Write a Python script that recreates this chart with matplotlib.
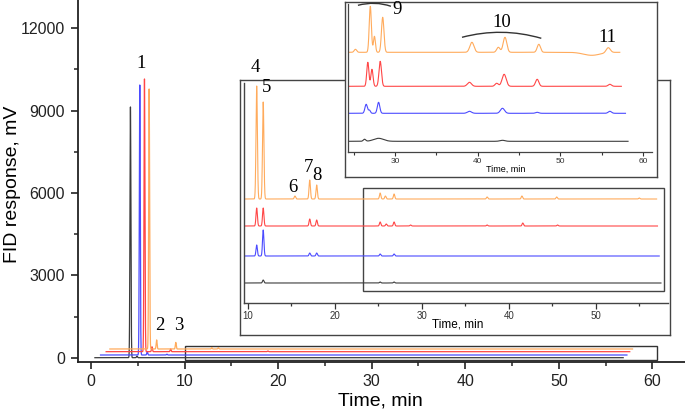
import numpy as np
import matplotlib
matplotlib.use('Agg')
import matplotlib.pyplot as plt
from matplotlib.patches import Rectangle, ConnectionPatch, PathPatch
from matplotlib.path import Path

plt.rcParams['font.family'] = ['Liberation Sans', 'DejaVu Sans']

W, H = 685, 411

# trace order: black, blue, red, orange
colors = ['#3c3c3c', '#4b4bff', '#ff4646', '#ffab5c']

# main chromatograms, mV
main_start = [0.4, 1.0, 1.6, 2.0]
main_end = [56.9, 57.3, 57.6, 57.9]
main_offset = [0, 98, 219, 317]
main_rt = [[4.2, 4.9], [5.2, 6.0, 8.1], [5.7, 6.5, 8.5, 18.9],
           [6.2, 7.0, 9.05, 12.9, 13.6]]
main_h = [[9133, 60], [9836, 130, 30], [9934, 180, 100, 25],
          [9472, 330, 240, 50, 50]]

# first inset (expanded 10-57 min), arbitrary units
in1_start = [9.6, 9.6, 9.6, 9.6]
in1_end = [57.5, 57.3, 57.1, 57.0]
in1_base = [20, 47, 77, 104]
in1_rt = [[11.75, 25.2, 26.8],
          [11.0, 11.75, 17.1, 17.9, 25.2, 26.8],
          [11.0, 11.75, 17.1, 17.9, 25.2, 25.9, 26.8, 28.7, 37.5, 41.6, 45.6],
          [11.0, 11.75, 15.4, 17.1, 17.9, 25.2, 25.8, 26.8, 37.5, 41.5, 45.5, 55.0]]
in1_h = [[3, 1, 1],
         [11, 26, 3, 3, 2, 2],
         [18, 18, 7, 6, 4, 2, 4, 1, 1, 3, 1],
         [113, 97, 3, 19, 14, 6, 3, 5, 2, 3, 2, 1]]

# second inset (24-58 min), arbitrary units
in2_start = [24.4, 24.4, 24.4, 24.4]
in2_end = [58.2, 57.9, 57.4, 57.2]
in2_base = [11, 39, 66, 100]
in2_rt = [[26.3, 28.0, 43.0],
          [26.5, 26.9, 28.0, 39.0, 43.0, 47.2, 56.0],
          [26.7, 27.2, 28.2, 39.0, 42.3, 43.2, 47.2, 56.0],
          [25.2, 27.0, 27.5, 28.5, 39.3, 42.5, 43.3, 47.4, 53.8, 55.8]]
in2_h = [[2, 3, 1],
         [9, 3, 11, 2, 5, 1, 2],
         [24, 17, 25, 4, 3, 12, 7, 2],
         [3, 46, 16, 35, 10, 5, 15, 8, -3, 5]]
in2_w = [[0.15, 0.6, 0.3],
         [0.15, 0.12, 0.15, 0.25, 0.25, 0.2, 0.2],
         [0.13, 0.13, 0.15, 0.25, 0.2, 0.25, 0.2, 0.2],
         [0.15, 0.13, 0.12, 0.15, 0.25, 0.2, 0.22, 0.2, 1.0, 0.25]]


def trace(t0, t1, base, rts, hts, wid, step=0.01):
    t = np.arange(t0, t1, step)
    y = np.full_like(t, float(base))
    wids = wid if np.iterable(wid) else [wid] * len(rts)
    for r, h, s in zip(rts, hts, wids):
        y += h * np.exp(-0.5 * ((t - r) / s) ** 2)
    return t, y


def box(x0, y0, x1, y1):
    # pixel box (top-left origin) -> figure fraction
    return [x0 / W, 1 - y1 / H, (x1 - x0) / W, (y1 - y0) / H]


def frame_axes(fig, b, z):
    fa = fig.add_axes(b, zorder=z)
    fa.set_xticks([])
    fa.set_yticks([])
    fa.set_facecolor('white')
    for s in fa.spines.values():
        s.set_linewidth(1.0)
        s.set_color('#444444')
    return fa


fig = plt.figure(figsize=(W / 100, H / 100), dpi=100)

# ---- main axes
ax = fig.add_axes(box(77.7, 0, 685, 361.7), zorder=1)
for i in range(4):
    t, y = trace(main_start[i], main_end[i], main_offset[i], main_rt[i], main_h[i], 0.05)
    ax.plot(t, y, color=colors[i], lw=0.9)
ax.set_xlim(-1.44, 63.5)
ax.set_ylim(-146, 13030)
ax.set_xticks(np.arange(0, 61, 10))
ax.set_xticks(np.arange(5, 61, 10), minor=True)
ax.set_yticks(np.arange(0, 12001, 3000))
ax.set_yticks(np.arange(1500, 12001, 3000), minor=True)
ax.spines['top'].set_visible(False)
ax.spines['right'].set_visible(False)
for s in ['left', 'bottom']:
    ax.spines[s].set_linewidth(1.3)
    ax.spines[s].set_color('#222222')
ax.tick_params(which='major', length=5, width=1.2, labelsize=11.5, pad=4, colors='#222222')
ax.tick_params(which='minor', length=3, width=1.1, colors='#222222')
ax.set_xlabel('Time, min', fontsize=14)
ax.xaxis.set_label_coords(0.499, -0.085)
ax.set_ylabel('FID response, mV', fontsize=14)
ax.yaxis.set_label_coords(-0.093, 0.49)
ax.add_patch(Rectangle((10, -95), 50.55, 532, fill=False, lw=1.0, ec='#333333'))
for lab, x, y in [('1', 5.33, 10700), ('2', 7.36, 1155), ('3', 9.32, 1155)]:
    ax.text(x, y, lab, family='Liberation Serif', fontsize=13.5, ha='center', va='center')

# ---- first inset
fr1 = frame_axes(fig, box(240, 80, 670, 335), 2)
in1 = fig.add_axes(box(244, 83, 668, 303), zorder=3)
in1.set_facecolor('none')
for i in range(4):
    t, y = trace(in1_start[i], in1_end[i], in1_base[i], in1_rt[i], in1_h[i], 0.08)
    in1.plot(t, y, color=colors[i], lw=0.8)
in1.set_xlim(9.54, 58.3)
in1.set_ylim(0, 220)
in1.set_xticks(np.arange(10, 51, 10))
in1.set_xticks(np.arange(15, 56, 10), minor=True)
in1.set_yticks([])
in1.spines['top'].set_visible(False)
in1.spines['right'].set_visible(False)
for s in ['left', 'bottom']:
    in1.spines[s].set_linewidth(1.0)
    in1.spines[s].set_color('#444444')
in1.tick_params(which='major', length=4, width=0.9, labelsize=7, pad=1.5, colors='#333333')
in1.tick_params(which='minor', length=2.5, width=0.9, colors='#333333')
in1.set_xlabel('Time, min', fontsize=8.5, labelpad=0)
in1.xaxis.set_label_coords(0.505, -0.07)
in1.add_patch(Rectangle((23.2, 12), 34.6, 103, fill=False, lw=1.0, ec='#444444'))
for lab, x, y in [('4', 10.8, 235), ('5', 12.1, 215), ('6', 15.2, 116),
                  ('7', 16.9, 135), ('8', 17.9, 127)]:
    in1.text(x, y, lab, family='Liberation Serif', fontsize=13.5, ha='center',
             va='center', clip_on=False)

# ---- second inset
fr2 = frame_axes(fig, box(345, 2, 657, 177), 4)
in2 = fig.add_axes(box(348, 4, 652, 152.3), zorder=5)
in2.set_facecolor('none')
for i in range(4):
    t, y = trace(in2_start[i], in2_end[i], in2_base[i], in2_rt[i], in2_h[i], in2_w[i])
    in2.plot(t, y, color=colors[i], lw=0.8)
in2.set_xlim(24.3, 61.1)
in2.set_ylim(0, 148.3)
in2.set_xticks(np.arange(30, 61, 10))
in2.set_xticks(np.arange(25, 61, 10), minor=True)
in2.set_yticks([])
in2.spines['top'].set_visible(False)
in2.spines['right'].set_visible(False)
for s in ['left', 'bottom']:
    in2.spines[s].set_linewidth(0.9)
    in2.spines[s].set_color('#444444')
in2.tick_params(which='major', length=3, width=0.8, labelsize=6, pad=1, colors='#333333')
in2.tick_params(which='minor', length=2, width=0.8, colors='#333333')
in2.set_xlabel('Time, min', fontsize=6.5)
in2.xaxis.set_label_coords(0.52, -0.085)
for lab, x, y in [('9', 30.2, 143), ('10', 42.9, 130), ('11', 55.75, 115)]:
    in2.text(x, y, lab, family='Liberation Serif', fontsize=13.5, ha='center',
             va='center', clip_on=False)
for (x0, y0), (xc, yc), (x1, y1) in [((25.5, 147), (27.6, 151.5), (29.5, 146)),
                                     ((38.1, 115), (42.9, 125.5), (47.7, 114))]:
    p = Path([(x0, y0), (xc, yc), (x1, y1)], [Path.MOVETO, Path.CURVE3, Path.CURVE3])
    in2.add_patch(PathPatch(p, fill=False, lw=1.0, ec='#333333', clip_on=False))

# connector lines
c1 = ConnectionPatch(xyA=(24.8, 437), coordsA=ax.transData,
                     xyB=((348 - 240) / 430, 0), coordsB=fr1.transAxes,
                     lw=0.9, color='#333333')
fig.add_artist(c1)
c2 = ConnectionPatch(xyA=(34.8, 115), coordsA=in1.transData,
                     xyB=((490 - 345) / 312, 0), coordsB=fr2.transAxes,
                     lw=0.9, color='#333333')
fig.add_artist(c2)

fig.savefig('out.png', dpi=100)
